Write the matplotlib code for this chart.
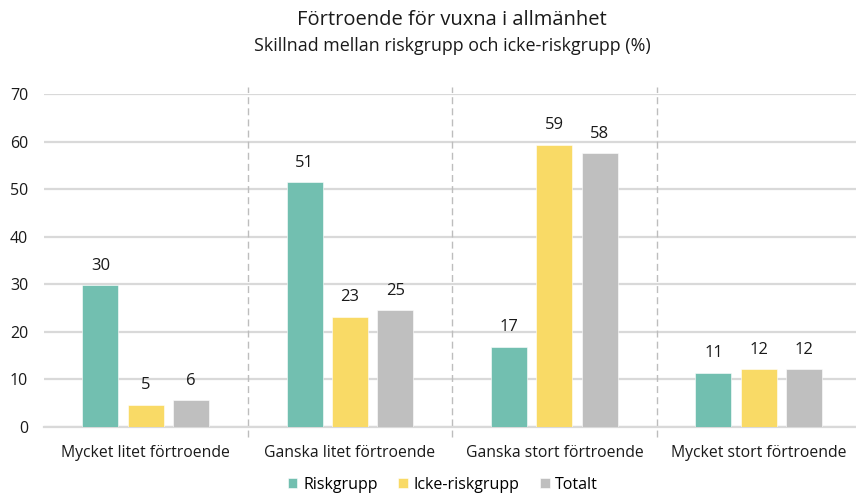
import matplotlib
matplotlib.use("Agg")
import matplotlib.pyplot as plt
import numpy as np

plt.rcParams['font.family'] = ['Open Sans', 'DejaVu Sans']

categories = ["Mycket litet förtroende", "Ganska litet förtroende",
              "Ganska stort förtroende", "Mycket stort förtroende"]
series_names = ["Riskgrupp", "Icke-riskgrupp", "Totalt"]
riskgrupp = [29.8, 51.4, 16.9, 11.4]
icke_riskgrupp = [4.7, 23.2, 59.3, 12.2]
totalt = [5.6, 24.6, 57.6, 12.2]
y_ticks = [0, 10, 20, 30, 40, 50, 60, 70]

colors = ["#72BFB0", "#F9DA66", "#BFBFBF"]
grid_color = "#D9D9D9"
text_color = "#1a1a1a"

W, H = 856, 495
fig = plt.figure(figsize=(W / 100, H / 100), dpi=100)
left_px, right_px, top_px, bottom_px = 43.5, 861, 94, 427
ax = fig.add_axes([left_px / W, 1 - bottom_px / H,
                   (right_px - left_px) / W, (bottom_px - top_px) / H])

x = np.arange(len(categories))
width = 0.176
step = 0.222
series = [riskgrupp, icke_riskgrupp, totalt]
for i, (vals, name, c) in enumerate(zip(series, series_names, colors)):
    pos = x + (i - 1) * step
    bars = ax.bar(pos, vals, width, color=c, label=name, zorder=3,
                  edgecolor="white", linewidth=0.4)
    for b, v in zip(bars, vals):
        ax.annotate(f"{v:.0f}", (b.get_x() + b.get_width() / 2, v),
                    xytext=(0, 14), textcoords="offset points",
                    ha="center", va="center", fontsize=12, color=text_color)

ax.set_xlim(-0.5, len(categories) - 0.5)
ax.set_ylim(0, 70)
ax.set_yticks(y_ticks)
ax.yaxis.grid(True, color=grid_color, linewidth=1.6, zorder=0)
ax.set_axisbelow(True)
ax.set_xticks(x)
ax.set_xticklabels(categories, fontsize=11.3, color=text_color)
ax.tick_params(axis="x", length=0, pad=13)
ax.tick_params(axis="y", length=0, pad=11, labelsize=11.5, labelcolor=text_color)
for s in ["top", "right", "left"]:
    ax.spines[s].set_visible(False)
ax.spines["bottom"].set_color(grid_color)
ax.spines["bottom"].set_linewidth(1.6)

# dashed separators between category groups
for sep in x[:-1] + 0.5:
    ax.plot([sep, sep], [-0.03, 1.02], transform=ax.get_xaxis_transform(),
            color="#BDBDBD", linestyle=(0, (5, 3)), linewidth=1.0,
            clip_on=False, zorder=1)

cx = (left_px + right_px) / 2 / W
fig.text(cx, 1 - 20 / H, "Förtroende för vuxna i allmänhet",
         ha="center", va="center", fontsize=14.5, color=text_color)
fig.text(cx, 1 - 46 / H, "Skillnad mellan riskgrupp och icke-riskgrupp (%)",
         ha="center", va="center", fontsize=12.9, color=text_color)

fig.legend(loc="center", bbox_to_anchor=(443 / W, 1 - 485 / H), ncol=3,
           frameon=False, fontsize=11.5, handlelength=0.6, handleheight=0.6,
           handletextpad=0.35, columnspacing=1.3, borderpad=0.1)

fig.savefig("out.png", dpi=100)
